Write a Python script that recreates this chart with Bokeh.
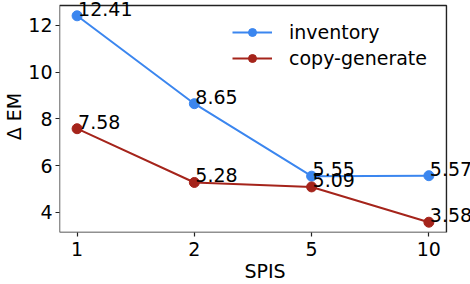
from bokeh.plotting import figure
from bokeh.models import ColumnDataSource, LabelSet, Range1d, FixedTicker, Legend, BoxAnnotation
from bokeh.core.properties import value
from bokeh.embed import file_html
from bokeh.resources import INLINE

categories = ["1", "2", "5", "10"]
inventory = [12.41, 8.65, 5.55, 5.57]
copy_generate = [7.58, 5.28, 5.09, 3.58]
y_ticks = [4, 6, 8, 10, 12]

FONT = "DejaVu Sans"
FS = "19px"
BLUE = "#3B86EF"
RED = "#A5241B"

xs = list(range(len(categories)))

# visible axes box (matplotlib-like 5% margins)
X0, X1 = -0.15, 3.15
Y0, Y1 = 3.14, 12.85

p = figure(width=470, height=284, output_backend="svg", toolbar_location=None,
           x_range=Range1d(X0, 3.355), y_range=Range1d(Y0, 13.065),
           min_border_left=59, min_border_right=0, min_border_top=0, min_border_bottom=50)

p.grid.visible = False
p.outline_line_color = None
p.background_fill_color = "white"

p.add_layout(BoxAnnotation(left=X0, right=X1, bottom=Y0, top=Y1, fill_alpha=0,
                           line_color="#222222", line_alpha=1.0, line_width=1.4))

src_inv = ColumnDataSource(dict(x=xs, y=inventory, t=[f"{v:.2f}" for v in inventory]))
src_cg = ColumnDataSource(dict(x=xs, y=copy_generate, t=[f"{v:.2f}" for v in copy_generate]))

r1 = p.line("x", "y", source=src_inv, line_color=BLUE, line_width=2)
r2 = p.scatter("x", "y", source=src_inv, marker="circle", size=10, fill_color=BLUE, line_color=BLUE)
r3 = p.line("x", "y", source=src_cg, line_color=RED, line_width=2)
r4 = p.scatter("x", "y", source=src_cg, marker="circle", size=10, fill_color=RED, line_color=RED)

for src in (src_inv, src_cg):
    lbl = LabelSet(x="x", y="y", text="t", source=src, x_offset=1, y_offset=0,
                   text_font=value(FONT), text_font_size=value(FS), text_color="black",
                   text_baseline="alphabetic", text_align="left")
    p.add_layout(lbl)

legend = Legend(items=[("inventory", [r1, r2]), ("copy-generate", [r3, r4])],
                location=(167, 157), label_text_font=FONT, label_text_font_size=FS,
                label_text_color="black",
                glyph_width=40, glyph_height=20, label_height=20, spacing=4,
                label_standoff=17, padding=6, margin=0,
                border_line_alpha=0, background_fill_alpha=0.8)
p.add_layout(legend)

p.xaxis.ticker = FixedTicker(ticks=xs)
p.xaxis.major_label_overrides = {i: c for i, c in enumerate(categories)}
p.yaxis.ticker = FixedTicker(ticks=y_ticks)

p.xaxis.axis_label = "SPIS"
p.yaxis.axis_label = "Δ EM"
for ax in (p.xaxis, p.yaxis):
    ax.axis_label_text_font = FONT
    ax.axis_label_text_font_size = FS
    ax.axis_label_text_font_style = "normal"
    ax.axis_label_text_color = "black"
    ax.major_label_text_font = FONT
    ax.major_label_text_font_size = FS
    ax.major_label_text_color = "black"
    ax.axis_line_color = None
    ax.major_tick_line_color = "#222222"
    ax.major_tick_line_width = 1.2
    ax.major_tick_out = 4
    ax.major_tick_in = 0
    ax.minor_tick_line_color = None
p.xaxis.axis_label_standoff = 1
p.xaxis.major_label_standoff = 5
p.yaxis.axis_label_standoff = 0
p.yaxis.major_label_standoff = 3

open("out.html", "w").write(file_html(p, INLINE))
